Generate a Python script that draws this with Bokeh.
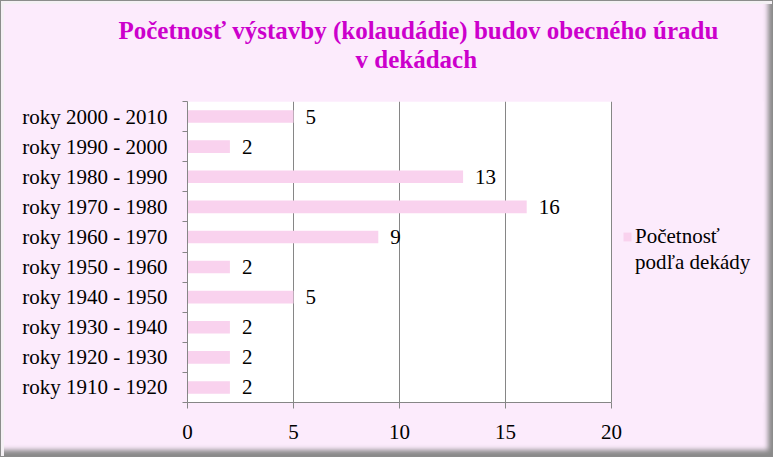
from bokeh.plotting import figure
from bokeh.models import ColumnDataSource, Range1d, FixedTicker, Title, Legend, LegendItem, BoxAnnotation
from bokeh.core.properties import value
from bokeh.embed import file_html
from bokeh.resources import INLINE

# categories as read top to bottom
decades = ["roky 2000 - 2010", "roky 1990 - 2000", "roky 1980 - 1990", "roky 1970 - 1980",
           "roky 1960 - 1970", "roky 1950 - 1960", "roky 1940 - 1950", "roky 1930 - 1940",
           "roky 1920 - 1930", "roky 1910 - 1920"]
counts = [5, 2, 13, 16, 9, 2, 5, 2, 2, 2]
x_ticks = [0, 5, 10, 15, 20]
x_max = 20

title_line1 = "Početnosť výstavby (kolaudádie) budov obecného úradu"
title_line2 = "v dekádach"
series_name = ["Početnosť", "podľa dekády"]

n = len(decades)
pos = [n - 1 - i for i in range(n)]
source = ColumnDataSource(dict(y=pos, count=counts, label=[str(c) for c in counts], name=decades))

FONT = "Liberation Serif"
PINK_BG = "#FCEBFC"
BAR = "#F9D2EE"
GRAY = "#868686"
TITLE_COLOR = "#CC00CC"

W, H = 773, 457
LEFT, RIGHT, TOP, BOTTOM = 187, 10, 101, 55
AXIS_W = 424  # pixel width of the 0..20 plot area
frame_w = W - LEFT - RIGHT
# the frame also holds the legend; the value axis only covers 0..20
x_end = x_max * frame_w / AXIS_W

p = figure(width=W, height=H, output_backend="svg", toolbar_location=None,
           x_range=Range1d(0, x_end), y_range=Range1d(-0.5, n - 0.5),
           min_border_left=LEFT, min_border_right=RIGHT, min_border_top=TOP, min_border_bottom=BOTTOM,
           background_fill_color=PINK_BG, border_fill_alpha=0,
           styles={"background": PINK_BG,
                   "box-shadow": "inset 0 0 0 1px #8c8c8c, inset 2px 2px 0 2px #f4f0f4, "
                                 "inset -6px -8px 5px -1px #8a8a8a"})

p.title = None
# titles stack outward from the plot: spacer first
p.add_layout(Title(text=" ", standoff=2, text_font=FONT, text_font_size="22px"), "above")
p.add_layout(Title(text=title_line2, align="left", offset=168, standoff=0,
                   text_font=FONT, text_font_size="25px", text_font_style="bold",
                   text_color=TITLE_COLOR), "above")
p.add_layout(Title(text=title_line1, align="left", offset=-69, standoff=0,
                   text_font=FONT, text_font_size="25px", text_font_style="bold",
                   text_color=TITLE_COLOR), "above")

# white plot area behind the grid
area = BoxAnnotation(left=0, right=x_max, fill_color="white", fill_alpha=1,
                     line_color=None, level="underlay")
p.add_layout(area)
p.center = [area] + [r for r in p.center if r is not area]

bars = p.hbar(y="y", right="count", height=0.42, left=0, source=source,
              fill_color=BAR, line_color=None)
# transparent twin so that the legend gets a second line without a swatch
twin = p.hbar(y="y", right="count", height=0.42, left=0, source=source,
              fill_alpha=0, line_alpha=0)
p.text(x="count", y="y", text="label", source=source, x_offset=12,
       text_baseline="middle", text_align="left", text_font=value(FONT),
       text_font_size="21px", text_color="black")

p.outline_line_color = None
p.ygrid.grid_line_color = None
p.xgrid.grid_line_color = GRAY
p.xgrid.grid_line_width = 1
p.xgrid.ticker = FixedTicker(ticks=x_ticks)

p.xaxis.ticker = FixedTicker(ticks=x_ticks)
p.xaxis.bounds = (0, x_max)
p.xaxis.axis_line_color = GRAY
p.xaxis.major_tick_line_color = GRAY
p.xaxis.major_tick_out = 6
p.xaxis.major_tick_in = 0
p.xaxis.minor_tick_line_color = None
p.xaxis.major_label_standoff = 16
p.xaxis.major_label_text_font = FONT
p.xaxis.major_label_text_font_size = "21px"
p.xaxis.major_label_text_color = "black"

p.yaxis.ticker = FixedTicker(ticks=pos, minor_ticks=[k - 0.5 for k in range(n + 1)])
p.yaxis.major_label_overrides = {pp: d for pp, d in zip(pos, decades)}
p.yaxis.axis_line_color = GRAY
p.yaxis.major_tick_line_color = None
p.yaxis.major_tick_out = 0
p.yaxis.major_tick_in = 0
p.yaxis.minor_tick_line_color = GRAY
p.yaxis.minor_tick_out = 5
p.yaxis.minor_tick_in = 0
p.yaxis.major_label_standoff = 15
p.yaxis.major_label_text_font = FONT
p.yaxis.major_label_text_font_size = "21px"
p.yaxis.major_label_text_color = "black"

legend = Legend(items=[LegendItem(label=series_name[0], renderers=[bars]),
                       LegendItem(label=series_name[1], renderers=[twin])],
                location=(435, 127), orientation="vertical",
                background_fill_alpha=0, border_line_color=None,
                padding=0, margin=0, spacing=0, glyph_width=10, glyph_height=11,
                label_standoff=3, label_height=26,
                label_text_font=FONT, label_text_font_size="21px", label_text_color="black")
p.add_layout(legend, "center")

open("out.html", "w").write(file_html(p, INLINE))
